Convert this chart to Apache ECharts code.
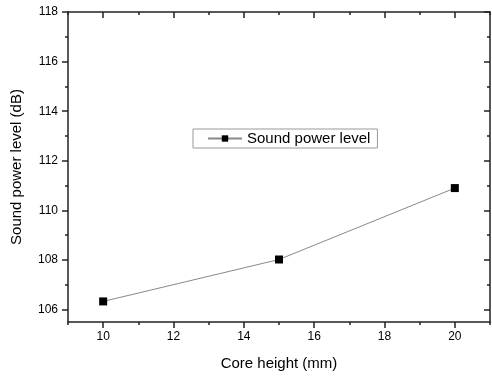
<!DOCTYPE html>
<html>
<head>
<meta charset="utf-8">
<script src="https://cdn.jsdelivr.net/npm/echarts@6/dist/echarts.min.js"></script>
<style>
  html, body { margin: 0; padding: 0; background: #fff; }
  #chart { width: 492px; height: 376px; }
</style>
</head>
<body>
<div id="chart"></div>
<script>
// core height (mm) vs sound power level (dB)
var coreHeight = [10, 15, 20];
var soundPower = [106.33, 108.02, 110.9];
var seriesName = 'Sound power level';

var xMajor = [10, 12, 14, 16, 18, 20];
var xMinor = [9, 11, 13, 15, 17, 19, 21];
var yMajor = [106, 108, 110, 112, 114, 116, 118];
var yMinor = [107, 109, 111, 113, 115, 117];

var chart = echarts.init(document.getElementById('chart'));
var fontFam = '"Liberation Sans", Arial, sans-serif';
var blk = { color: '#222', width: 1.5 };

// helper: an axis that only draws ticks, no line, no label
function tickAxis(pos, vals, len, inside, lo, hi) {
    return {
        type: 'value', min: lo, max: hi, position: pos,
        axisLine: { show: false },
        axisTick: { show: true, inside: inside, length: len, lineStyle: blk, customValues: vals },
        axisLabel: { show: false },
        splitLine: { show: false }
    };
}

chart.setOption({
    animation: false,
    backgroundColor: '#fff',
    grid: { left: 68, right: 2, top: 12, bottom: 53 },
    legend: {
        data: [seriesName],
        left: 193,
        top: 129,
        itemWidth: 34,
        itemHeight: 8,
        itemGap: 4,
        padding: [2, 7, 2, 14],
        borderColor: '#999',
        borderWidth: 1,
        textStyle: { fontFamily: fontFam, fontSize: 15, color: '#000' }
    },
    xAxis: [
        {
            type: 'value', min: 9, max: 21,
            position: 'bottom',
            name: 'Core height (mm)', nameLocation: 'middle', nameGap: 34,
            nameTextStyle: { fontFamily: fontFam, fontSize: 15, color: '#000' },
            axisLine: { show: true, lineStyle: blk },
            axisTick: { show: true, inside: false, length: 6, lineStyle: blk, customValues: xMajor },
            axisLabel: { fontFamily: fontFam, fontSize: 12, color: '#000', margin: 9, customValues: xMajor },
            splitLine: { show: false }
        },
        {
            type: 'value', min: 9, max: 21,
            position: 'top',
            axisLine: { show: true, lineStyle: blk },
            axisTick: { show: true, inside: true, length: 6, lineStyle: blk, customValues: xMajor },
            axisLabel: { show: false },
            splitLine: { show: false }
        },
        tickAxis('bottom', xMinor, 3, false, 9, 21),
        tickAxis('top', xMinor, 3, true, 9, 21)
    ],
    yAxis: [
        {
            type: 'value', min: 105.5, max: 118,
            position: 'left',
            name: 'Sound power level (dB)', nameLocation: 'middle', nameGap: 44,
            nameTextStyle: { fontFamily: fontFam, fontSize: 15, color: '#000' },
            axisLine: { show: true, lineStyle: blk },
            axisTick: { show: true, inside: false, length: 6, lineStyle: blk, customValues: yMajor },
            axisLabel: { fontFamily: fontFam, fontSize: 12, color: '#000', margin: 10, customValues: yMajor },
            splitLine: { show: false }
        },
        {
            type: 'value', min: 105.5, max: 118,
            position: 'right',
            axisLine: { show: true, lineStyle: blk },
            axisTick: { show: true, inside: true, length: 6, lineStyle: blk, customValues: yMajor },
            axisLabel: { show: false },
            splitLine: { show: false }
        },
        tickAxis('left', yMinor, 3, false, 105.5, 118),
        tickAxis('right', yMinor, 3, true, 105.5, 118)
    ],
    series: [
        {
            name: seriesName,
            type: 'line',
            xAxisIndex: 0,
            yAxisIndex: 0,
            data: coreHeight.map(function (x, i) { return [x, soundPower[i]]; }),
            symbol: 'rect',
            symbolSize: 8,
            itemStyle: { color: '#000' },
            lineStyle: { color: '#888', width: 1 }
        }
    ]
});
</script>
</body>
</html>
